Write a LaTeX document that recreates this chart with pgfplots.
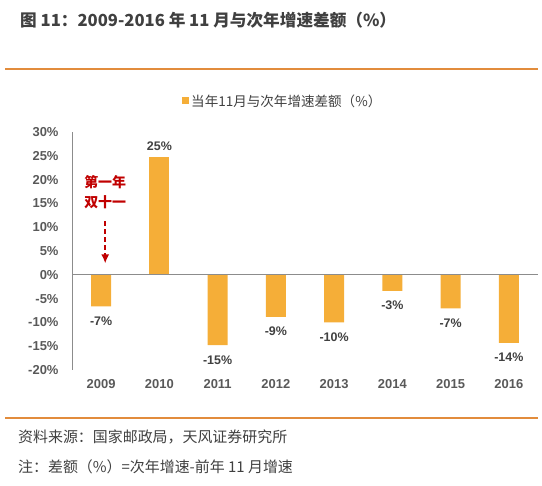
\documentclass[border=0pt]{standalone}
\usepackage{pgfplots}
\pgfplotsset{compat=1.18}
\usetikzlibrary{arrows.meta}
\usepackage{fontspec}
\setmainfont{Liberation Sans}
\newfontfamily\cjk{Noto Sans CJK SC}
\definecolor{barc}{RGB}{245,174,56}
\definecolor{linec}{RGB}{226,140,60}
\definecolor{ann}{RGB}{192,0,0}
\definecolor{tickc}{RGB}{89,89,89}
\definecolor{txt}{RGB}{64,64,64}
\definecolor{axc}{RGB}{140,140,140}
\begin{document}
\begin{tikzpicture}[x=1bp,y=1bp]
\path (0,0) rectangle (542,486);
\node[anchor=west, font=\cjk\bfseries\fontsize{16.7}{18}\selectfont, text=txt, inner sep=0] at (20,466) {图 11：2009-2016 年 11 月与次年增速差额（\%）};
\draw[linec, line width=1.6bp] (5,417) -- (538,417);
\fill[barc] (182,381.5) rectangle (189,388.5);
\node[anchor=west, font=\cjk\fontsize{13.6}{15}\selectfont, text=txt, inner sep=0] at (191,385) {当年11月与次年增速差额（\%）};
\draw[linec, line width=1.6bp] (5,68) -- (538,68);
\node[anchor=west, font=\cjk\fontsize{15}{16}\selectfont, text=txt, inner sep=0] at (18,49) {资料来源：国家邮政局，天风证券研究所};
\node[anchor=west, font=\cjk\fontsize{15}{16}\selectfont, text=txt, inner sep=0] at (18,19) {注：差额（\%）=次年增速-前年 11 月增速};
\begin{axis}[
  at={(72bp,116bp)}, anchor=south west, scale only axis,
  width=466bp, height=238bp,
  xmin=-0.5, xmax=7.5, ymin=-20, ymax=30,
  ytick={-20,-15,...,30},
  xtick={0,...,7},
  xticklabels={2009,2010,2011,2012,2013,2014,2015,2016},
  yticklabel={\pgfmathprintnumber{\tick}\%},
  /pgf/number format/assume math mode=true,
  axis x line*=bottom, axis y line*=left,
  x axis line style={draw=none},
  y axis line style={draw=axc, line width=0.8bp},
  major tick length=0pt,
  ticklabel style={font=\bfseries\fontsize{13}{15}\selectfont, text=tickc},
  yticklabel style={xshift=-10bp},
  xticklabel style={yshift=-6bp},
  clip=false,
]
\addplot[ybar, bar width=20bp, bar shift=0pt, fill=barc, draw=none,
  nodes near coords, point meta=explicit symbolic,
  every node near coord/.append style={font=\bfseries\fontsize{12.5}{14}\selectfont, text=txt, inner sep=4bp, anchor=south, yshift=2bp}]
  coordinates {(1,24.8)[25\%]};
\addplot[ybar, bar width=20bp, bar shift=0pt, fill=barc, draw=none,
  nodes near coords, point meta=explicit symbolic,
  every node near coord/.append style={font=\bfseries\fontsize{12.5}{14}\selectfont, text=txt, inner sep=4bp, anchor=north, yshift=-6bp}]
  coordinates {(0,-6.65)[-7\%] (2,-14.8)[-15\%] (3,-8.85)[-9\%] (4,-9.97)[-10\%] (5,-3.4)[-3\%] (6,-7.05)[-7\%] (7,-14.3)[-14\%]};
\draw[axc, line width=0.8bp] (axis cs:-0.5,0) -- (axis cs:7.5,0);
\node[font=\cjk\bfseries\fontsize{14}{16}\selectfont, text=ann, inner sep=0] at (axis cs:0.07,19.5) {第一年};
\node[font=\cjk\bfseries\fontsize{14}{16}\selectfont, text=ann, inner sep=0] at (axis cs:0.07,15.3) {双十一};
\draw[ann, line width=1.5bp, dash pattern=on 5bp off 3bp, -{Latex[length=9bp,width=8bp]}] (axis cs:0.07,11.3) -- (axis cs:0.07,2.4);
\end{axis}
\end{tikzpicture}
\end{document}
